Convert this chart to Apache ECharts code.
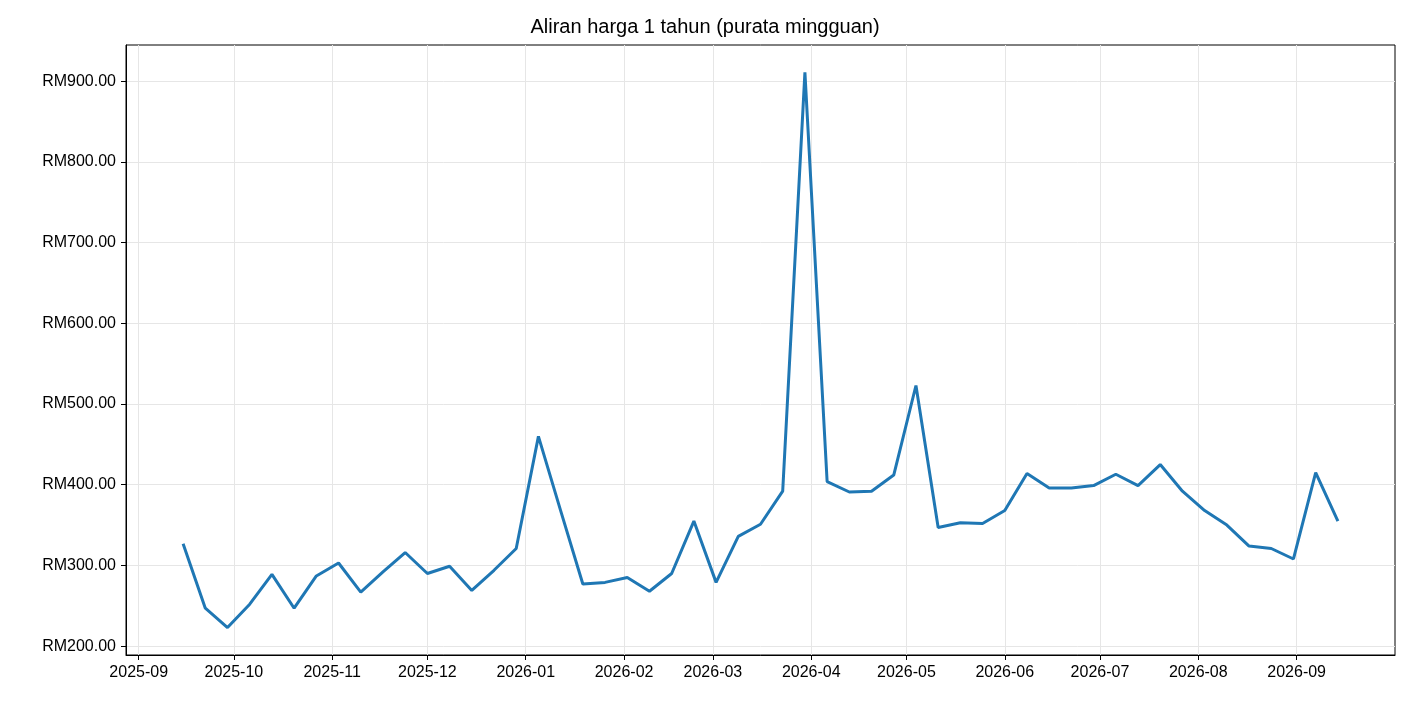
<!DOCTYPE html>
<html>
<head>
<meta charset="utf-8">
<script src="https://cdn.jsdelivr.net/npm/echarts@6/dist/echarts.min.js"></script>
<style>html,body{margin:0;background:#fff}#main{width:1410px;height:704px}</style>
</head>
<body>
<div id="main"></div>
<script>
  // weekly averages, starting Monday 2025-09-15
  const startDate = '2025-09-15'
  const prices = [327, 247, 223, 252, 289, 247, 287, 303, 267, 292, 316, 290, 299, 269, 294, 321,
    460, 368, 277, 279, 285, 268, 290, 355, 279, 336, 351, 392, 911, 404, 391, 392, 412, 523,
    347, 353, 352, 368, 414, 396, 396, 399, 413, 399, 425, 392, 368, 350, 324, 321, 308, 415, 355]
  const monthTicks = ['2025-09', '2025-10', '2025-11', '2025-12', '2026-01', '2026-02', '2026-03',
    '2026-04', '2026-05', '2026-06', '2026-07', '2026-08', '2026-09']
  const yTicks = [200, 300, 400, 500, 600, 700, 800, 900]

  const day = 86400000
  const t0 = Date.UTC(2025, 8, 15)
  const data = prices.map((v, i) => [t0 + i * 7 * day, v])
  const monthVals = monthTicks.map(m => {
    const p = m.split('-')
    return Date.UTC(+p[0], +p[1] - 1, 1)
  })

  const font = 'Liberation Sans, Arial, sans-serif'
  const chart = echarts.init(document.getElementById('main'))
  chart.setOption({
    animation: false,
    title: {
      text: 'Aliran harga 1 tahun (purata mingguan)',
      left: 'center', top: 12,
      textStyle: { fontFamily: font, fontSize: 20, fontWeight: 'normal', color: '#000' }
    },
    grid: { left: 126, right: 15, top: 45, bottom: 49 },
    xAxis: {
      type: 'value',
      min: Date.UTC(2025, 7, 28),
      max: Date.UTC(2026, 9, 2),
      axisLine: { show: true, onZero: false, lineStyle: { color: '#000' } },
      axisTick: { show: true, customValues: monthVals, length: 5, lineStyle: { color: '#000' } },
      axisLabel: {
        customValues: monthVals, fontFamily: font, fontSize: 16, color: '#000', margin: 10,
        formatter: v => {
          const d = new Date(v)
          return d.getUTCFullYear() + '-' + String(d.getUTCMonth() + 1).padStart(2, '0')
        }
      },
      splitLine: { show: true, lineStyle: { color: '#e6e6e6' } }
    },
    yAxis: {
      type: 'value',
      min: 189, max: 945,
      axisLine: { show: true, lineStyle: { color: '#000' } },
      axisTick: { show: true, customValues: yTicks, length: 5, lineStyle: { color: '#000' } },
      axisLabel: {
        customValues: yTicks, fontFamily: font, fontSize: 16, color: '#000', margin: 10,
        formatter: v => 'RM' + v.toFixed(2)
      },
      splitLine: { show: true, lineStyle: { color: '#e6e6e6' } }
    },
    series: [{
      type: 'line',
      data: data,
      symbol: 'none',
      lineStyle: { width: 3, color: '#1f77b4' }
    }],
    graphic: [{
      type: 'rect', shape: { x: 126, y: 45, width: 1269, height: 610 },
      style: { fill: 'none', stroke: '#000', lineWidth: 1 }, silent: true
    }]
  })
</script>
</body>
</html>
